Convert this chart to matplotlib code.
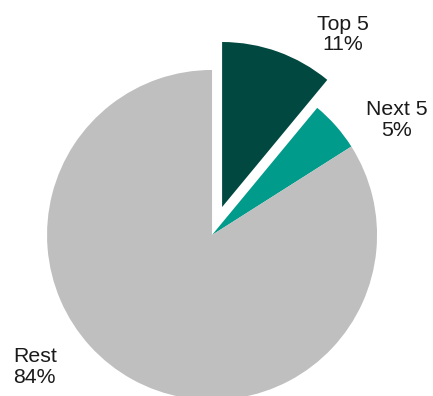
import matplotlib.pyplot as plt

plt.rcParams['font.family'] = ['Liberation Sans', 'DejaVu Sans']

# 数据
labels = ['Top 5', 'Next 5', 'Rest']
shares = [11, 5, 84]
colors = ['#004840', '#009B8A', '#BFBFBF']
explode = [0.18, 0, 0]

fig = plt.figure(figsize=(4.33, 3.96), dpi=100)
ax = fig.add_axes([0, 0, 1, 1])

ax.pie(shares, colors=colors, explode=explode, startangle=90,
       counterclock=False, radius=1.0, wedgeprops=dict(linewidth=0))

# 标签
label_pos = [(0.794, 1.215, 'center'), (1.118, 0.697, 'center'), (-1.205, -0.80, 'left')]
for name, val, (x, y, ha) in zip(labels, shares, label_pos):
    ax.text(x, y, f'{name}\n{val}%', ha=ha, va='center', fontsize=15.3,
            color='#1a1a1a', linespacing=1.12)

ax.set_xlim(-1.285, 1.339)
ax.set_ylim(-0.976, 1.424)
ax.set_aspect('equal')
ax.axis('off')

plt.savefig('out.png', dpi=100)
